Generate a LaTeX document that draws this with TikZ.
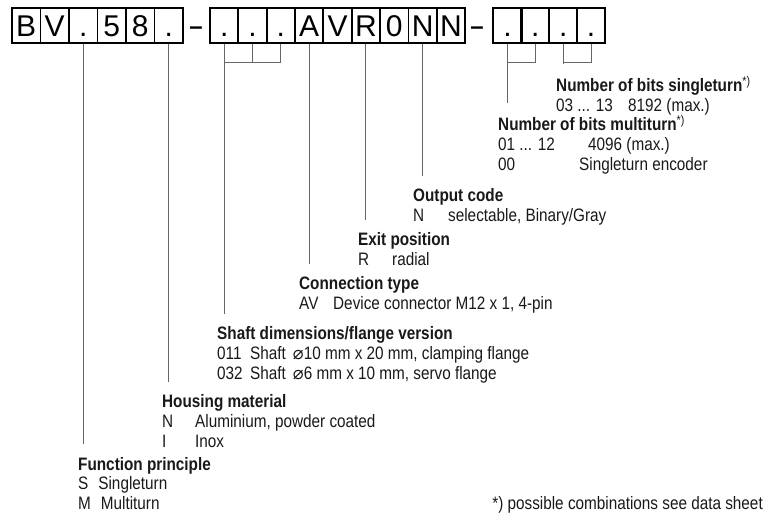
\documentclass[tikz,border=0pt]{standalone}
\usepackage{fontspec}
\setmainfont{Liberation Sans}[FakeStretch=0.85]
\newfontfamily\boxfont{Liberation Sans}
\newfontfamily\symfont{DejaVu Sans}
\newcommand{\codebox}[2]{\makebox[#1][l]{#2}}

\begin{document}
\begin{tikzpicture}[x=1pt, y=-1pt,
	c/.style={draw, line width=1.8pt, minimum width=28.4pt, minimum height=34.4pt, inner sep=0pt, text height=21.5pt, text depth=0pt, font=\boxfont\fontsize{30}{30}\selectfont},
	dsh/.style={anchor=base, inner sep=0pt, font=\boxfont\bfseries\fontsize{24}{24}\selectfont},
	blk/.style={anchor=base west, inner sep=0pt, text=black!90, font=\fontsize{18}{19.6}\selectfont},
	ln/.style={draw=black!60, line width=0.9pt}]
	\useasboundingbox (0,0) rectangle (764,513);
	% type code boxes
	\foreach \t [count=\i] in {B,V,.,5,8,.} \node[c] (b\i) at ({12+(\i-0.5)*28.5},25.5) {\t};
	\foreach \t [count=\i from 7] in {.,.,.,A,V,R,0,N,N} \node[c] (b\i) at ({210+(\i-6.5)*28.35},25.5) {\t};
	\foreach \t [count=\i from 16] in {.,.,.,.} \node[c] (b\i) at ({493.5+(\i-15.5)*27.9},25.5) {\t};
	\node[dsh] (d1) at (196,35) {–};
	\node[dsh] (d2) at (477,35) {–};
	% explanations
	\node[blk] (st) at (556,92) {\begin{tabular}[t]{@{}l@{}}\textbf{Number of bits singleturn}\textsuperscript{*)}\\ \codebox{72pt}{03 ... 13}8192 (max.)\end{tabular}};
	\node[blk] (mt) at (498,131) {\begin{tabular}[t]{@{}l@{}}\textbf{Number of bits multiturn}\textsuperscript{*)}\\ \codebox{90pt}{01 ... 12}4096 (max.)\\ \codebox{81pt}{00}Singleturn encoder\end{tabular}};
	\node[blk] (oc) at (413,202) {\begin{tabular}[t]{@{}l@{}}\textbf{Output code}\\ \codebox{35pt}{N}selectable, Binary/Gray\end{tabular}};
	\node[blk] (ep) at (358,246) {\begin{tabular}[t]{@{}l@{}}\textbf{Exit position}\\ \codebox{34pt}{R}radial\end{tabular}};
	\node[blk] (ct) at (299,290) {\begin{tabular}[t]{@{}l@{}}\textbf{Connection type}\\ \codebox{34pt}{AV}Device connector M12 x 1, 4-pin\end{tabular}};
	\node[blk] (sd) at (217,340) {\begin{tabular}[t]{@{}l@{}}\textbf{Shaft dimensions/flange version}\\ \codebox{33pt}{011}Shaft\hspace{7pt}{\symfont ⌀}10 mm x 20 mm, clamping flange\\ \codebox{33pt}{032}Shaft\hspace{7pt}{\symfont ⌀}6 mm x 10 mm, servo flange\end{tabular}};
	\node[blk] (hm) at (162,408) {\begin{tabular}[t]{@{}l@{}}\textbf{Housing material}\\ \codebox{33pt}{N}Aluminium, powder coated\\ \codebox{33pt}{I}Inox\end{tabular}};
	\node[blk] (fp) at (78,470) {\begin{tabular}[t]{@{}l@{}}\textbf{Function principle}\\ S\hspace{10pt}Singleturn\\ M\hspace{10pt}Multiturn\end{tabular}};
	\node[blk, anchor=base east] (fn) at (763,509) {*) possible combinations see data sheet};
	% connectors
	\coordinate (k) at (0,62);
	\foreach \a/\b in {b8/b7, b9/b7, b17/b16, b19/b18} {\draw[ln] (\a.south) |- (\b.south |- k);}
	\foreach \a/\b in {b3/fp, b6/hm, b7/sd, b10/ct, b12/ep, b14/oc, b16/mt, b18/st} {\draw[ln] (\a.south) -- ([yshift=12.5pt]\a.south |- \b.north);}
\end{tikzpicture}
\end{document}
